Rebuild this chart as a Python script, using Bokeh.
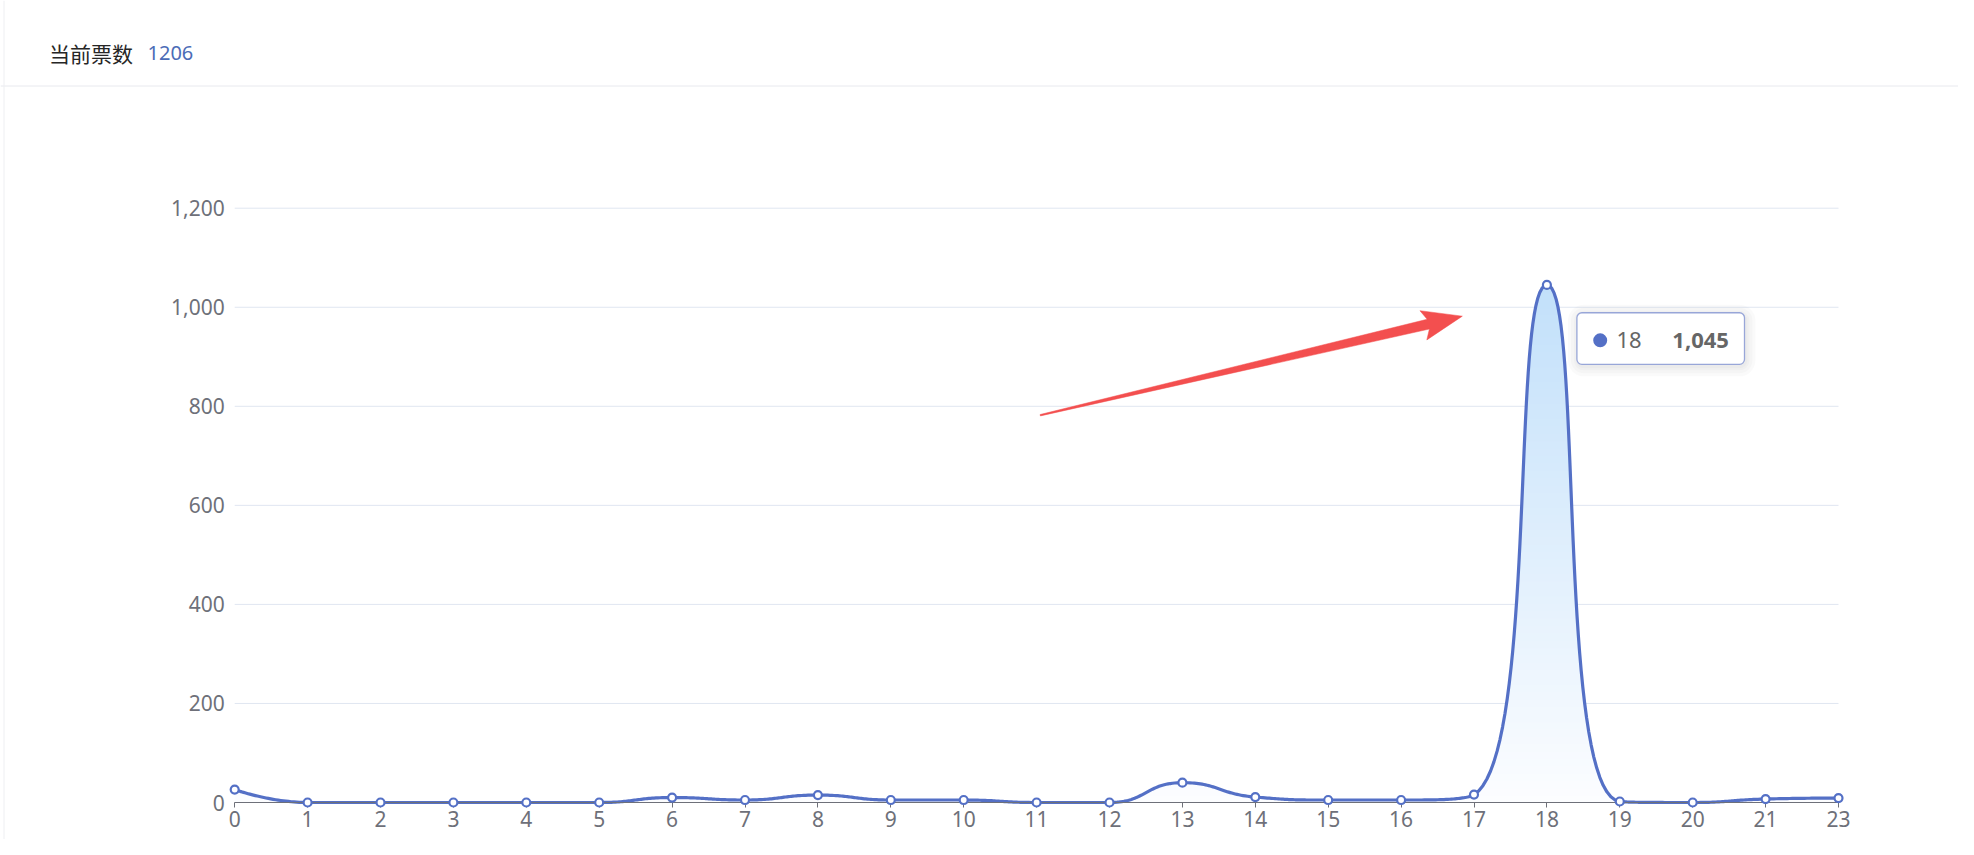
import math
from bokeh.plotting import figure
from bokeh.models import Range1d, FixedTicker, NumeralTickFormatter, Label
from bokeh.embed import file_html
from bokeh.resources import INLINE

# ---------------- data ----------------
HOURS = ["0", "1", "2", "3", "4", "5", "6", "7", "8", "9", "10", "11",
         "12", "13", "14", "15", "16", "17", "18", "19", "20", "21", "23"]
VOTES = [26, 0, 0, 0, 0, 0, 10, 5, 15, 5, 5, 0,
         0, 40, 11, 5, 5, 16, 1045, 2, 0, 7, 9]
Y_TICKS = [0, 200, 400, 600, 800, 1000, 1200]
TITLE = "当前票数"
TOTAL = sum(VOTES)

# annotation arrow (data coords)
ARROW_TAIL = (11.05, 782)
ARROW_TIP = (16.84, 982)

# ---------------- layout (canvas pixels) ----------------
W, H = 1958, 839
FX0, FX1 = 234.2, 1838.0     # x of first / last category
FYT, FY0 = 207.7, 802.0      # y of top tick / zero
NX = len(HOURS) - 1
sx = (FX1 - FX0) / NX
sy = (FY0 - FYT) / Y_TICKS[-1]


def X(fx):
    return (fx - FX0) / sx


def Y(fy):
    return (FY0 - fy) / sy


LINE = "#5470c6"
LABEL_C = "#6e7079"
GRID_C = "#e0e6f1"
NUM_FONT = "Noto Sans"
CJK_FONT = "Noto Sans CJK SC"

p = figure(width=W, height=H, output_backend="svg", toolbar_location=None,
           x_range=Range1d(X(0), X(W)), y_range=Range1d(Y(H), Y(0)),
           min_border_left=0, min_border_right=0, min_border_top=0, min_border_bottom=0,
           outline_line_color=None, background_fill_color="white",
           border_fill_color="white")
p.grid.visible = False

# ---------------- card frame / header ----------------
p.segment(x0=[X(0)], y0=[Y(85.5)], x1=[X(W)], y1=[Y(85.5)], line_color="#e8e9ee", line_width=1)
p.segment(x0=[X(3.5)], y0=[Y(0)], x1=[X(3.5)], y1=[Y(H)], line_color="#eeeff2", line_width=1)
p.add_layout(Label(x=X(48.5), y=Y(52), text=TITLE, text_align="left", text_baseline="middle",
                   text_font=CJK_FONT, text_font_size="21px", text_color="#262626"))
p.add_layout(Label(x=X(147), y=Y(52), text=str(TOTAL), text_align="left",
                   text_baseline="middle", text_font=NUM_FONT, text_font_size="20px",
                   text_color="#4b6cb7"))

# gridlines
p.segment(x0=[0] * len(Y_TICKS), y0=Y_TICKS, x1=[NX] * len(Y_TICKS), y1=Y_TICKS,
          line_color=GRID_C, line_width=1)


# ECharts-like smoothing computed in pixel space
def smooth_curve(xs, ys, smooth=0.5, steps=40):
    px = [x * sx for x in xs]
    py = [y * sy for y in ys]
    n = len(px)
    out_x, out_y = [px[0]], [py[0]]
    cp0x, cp0y = px[0], py[0]
    for k in range(1, n):
        x, y = px[k], py[k]
        prevX, prevY = px[k - 1], py[k - 1]
        if k < n - 1:
            nextX, nextY = px[k + 1], py[k + 1]
            lenPrev = math.hypot(x - prevX, y - prevY)
            lenNext = math.hypot(nextX - x, nextY - y)
            ratio = lenNext / (lenNext + lenPrev)
            vx = nextX - prevX
            vy = nextY - prevY
            ncx = x + vx * smooth * ratio
            ncy = y + vy * smooth * ratio
            ncx = max(min(ncx, max(nextX, x)), min(nextX, x))
            ncy = max(min(ncy, max(nextY, y)), min(nextY, y))
            vx = ncx - x
            vy = ncy - y
            c1x = x - vx * lenPrev / lenNext
            c1y = y - vy * lenPrev / lenNext
            c1x = max(min(c1x, max(prevX, x)), min(prevX, x))
            c1y = max(min(c1y, max(prevY, y)), min(prevY, y))
            vx = x - c1x
            vy = y - c1y
            ncx = x + vx * lenNext / lenPrev
            ncy = y + vy * lenNext / lenPrev
        else:
            c1x, c1y = x, y
            ncx, ncy = x, y
        for s in range(1, steps + 1):
            t = s / steps
            a = (1 - t) ** 3
            b = 3 * (1 - t) ** 2 * t
            c = 3 * (1 - t) * t ** 2
            d = t ** 3
            out_x.append(a * prevX + b * cp0x + c * c1x + d * x)
            out_y.append(a * prevY + b * cp0y + c * c1y + d * y)
        cp0x, cp0y = ncx, ncy
    return [v / sx for v in out_x], [max(0.0, v / sy) for v in out_y]


idx = list(range(len(HOURS)))
cx, cy = smooth_curve(idx, VOTES)

# gradient area via stacked stripes
top_v = max(VOTES)
c_top = (194, 224, 250)
c_bot = (252, 253, 255)
NS = 70
ov = 1.0 / sy
for k in range(NS):
    a = top_v * k / NS
    b = top_v * (k + 1) / NS
    t = (a + b) / 2 / top_v
    col = tuple(int(round(c_bot[i] + (c_top[i] - c_bot[i]) * t)) for i in range(3))
    lo = [min(v, max(0.0, a - ov)) for v in cy]
    hi = [min(v, b) for v in cy]
    p.varea(x=cx, y1=lo, y2=hi, fill_color="#%02x%02x%02x" % col)

p.line(cx, cy, line_color=LINE, line_width=3.2, line_join="round")

# red arrow (tapered)
tx, ty = ARROW_TAIL[0] * sx, ARROW_TAIL[1] * sy
hx, hy = ARROW_TIP[0] * sx, ARROW_TIP[1] * sy
L = math.hypot(hx - tx, hy - ty)
ux, uy = (hx - tx) / L, (hy - ty) / L
nx_, ny_ = -uy, ux


def pt(s, w):
    return ((hx - ux * s + nx_ * w) / sx, (hy - uy * s + ny_ * w) / sy)


poly = [pt(L, 0.7), pt(35, 5.0), pt(40, 15), pt(0, 0), pt(40, -15), pt(35, -5.0), pt(L, -0.7)]
p.patch([q[0] for q in poly], [q[1] for q in poly], fill_color="#f34f4f", line_color="#f34f4f",
        line_width=0.5)

# tooltip (pixel offsets from the peak point)
pk = VOTES.index(top_v)
pkx, pky = pk * sx, top_v * sy
box_l, box_r = pkx + 30, pkx + 197.6
box_t, box_b = pky - 27.8, pky - 79.4
for grow in [10, 7, 4, 2]:
    p.quad(left=[(box_l + 1 - grow) / sx], right=[(box_r + 1 + grow) / sx],
           top=[(box_t - 2 + grow) / sy], bottom=[(box_b - 2 - grow) / sy],
           fill_color="black", fill_alpha=0.018, line_color=None,
           border_radius=6 + grow, level="overlay")
p.quad(left=[box_l / sx], right=[box_r / sx], top=[box_t / sy], bottom=[box_b / sy],
       fill_color="white", line_color="#98a6d8", line_width=1.3, border_radius=5,
       level="overlay")
dot_y = pky - 55.4
p.scatter([(pkx + 53.3) / sx], [dot_y / sy], size=14, fill_color=LINE, line_color=None,
          level="overlay")
p.add_layout(Label(x=(pkx + 69.5) / sx, y=dot_y / sy, text=HOURS[pk], text_align="left",
                   text_baseline="middle", text_font=NUM_FONT, text_font_size="22px",
                   text_color="#666666", level="overlay"))
p.add_layout(Label(x=(pkx + 182) / sx, y=dot_y / sy, text=f"{top_v:,}", text_align="right",
                   text_baseline="middle", text_font=NUM_FONT, text_font_size="22px",
                   text_font_style="bold", text_color="#666666", level="overlay"))

# axes (fixed inside a full-canvas frame)
p.xaxis.fixed_location = 0
p.xaxis.bounds = (0, NX)
p.xaxis.ticker = FixedTicker(ticks=idx)
p.xaxis.major_label_overrides = {i: h for i, h in enumerate(HOURS)}
p.xaxis.axis_line_color = LABEL_C
p.xaxis.axis_line_width = 1.2
p.xaxis.major_tick_line_color = LABEL_C
p.xaxis.major_tick_in = 0
p.xaxis.major_tick_out = 5
p.xaxis.minor_tick_line_color = None
p.xaxis.major_label_standoff = 3
p.xaxis.major_label_text_color = LABEL_C
p.xaxis.major_label_text_font = NUM_FONT
p.xaxis.major_label_text_font_size = "21px"

p.yaxis.fixed_location = 0
p.yaxis.ticker = FixedTicker(ticks=Y_TICKS)
p.yaxis.formatter = NumeralTickFormatter(format="0,0")
p.yaxis.axis_line_color = None
p.yaxis.major_tick_line_color = None
p.yaxis.minor_tick_line_color = None
p.yaxis.major_tick_in = 0
p.yaxis.major_tick_out = 0
p.yaxis.major_label_standoff = 10
p.yaxis.major_label_text_color = LABEL_C
p.yaxis.major_label_text_font = NUM_FONT
p.yaxis.major_label_text_font_size = "21px"

# markers on top of the axis line
p.scatter(idx, VOTES, size=8, fill_color="white", line_color=LINE, line_width=2.2,
          level="overlay")

open("out.html", "w").write(file_html(p, INLINE))
